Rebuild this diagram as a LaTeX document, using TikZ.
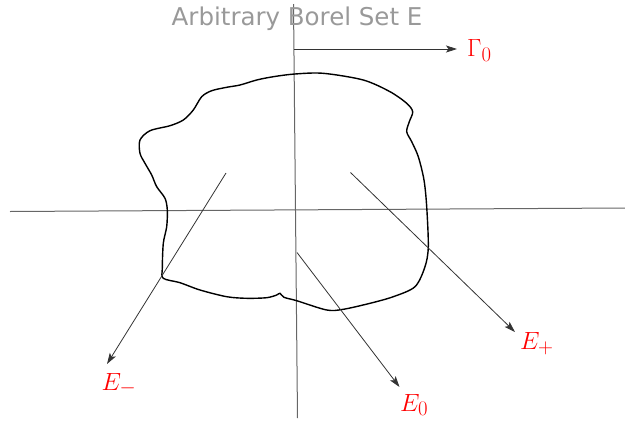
\documentclass[tikz,border=0pt]{standalone}
\usepackage{fontspec}
\newfontfamily\titlefont{DejaVu Sans}
\usetikzlibrary{arrows.meta}
\definecolor{titlegray}{HTML}{999999}
\definecolor{axisgray}{HTML}{666666}
\definecolor{arrowgray}{HTML}{333333}
\definecolor{labelred}{HTML}{FF0000}
\tikzset{
  axisline/.style={draw=axisgray, line width=1pt},
  pointer/.style={draw=arrowgray, line width=0.8pt, -{Stealth[length=11pt,width=7pt,inset=2.5pt]}},
  mathlabel/.style={text=labelred, anchor=base west, inner sep=0pt, font=\fontsize{28}{32}\selectfont},
  titlelabel/.style={text=titlegray, anchor=base west, inner sep=0pt, font=\titlefont\fontsize{24.5}{28}\selectfont},
  blob/.style={draw=black, line width=1.4pt}
}
\begin{document}
\begin{tikzpicture}[x=1pt,y=-1pt]
\useasboundingbox (0,0) rectangle (625,421);
% axes
\coordinate (hl) at (10,211.5);
\coordinate (hr) at (625,208);
\coordinate (vt) at (293.5,4);
\coordinate (vb) at (297.5,418);
\draw[axisline] (hl) -- (hr);
\draw[axisline] (vt) -- (vb);
% title
\node[titlelabel] (title) at (171.5,25.3) {Arbitrary Borel Set E};
% blob
\draw[blob] plot[smooth cycle, tension=0.5] coordinates {
 (295,74) (323.3,73.3) (363.3,80) (390,91.7) (406.7,103.3) (412.7,111.7)
 (409.3,121.7) (406.7,131.7) (411.7,141.7) (418.3,156.7) (424,180)
 (426.7,206.7) (428.3,246.7) (425,266.7) (415,286.7) (393.3,296.7)
 (370,303.3) (343.3,309.3) (326.7,310) (296.7,300.7) (284,297.3)
 (280,293.3) (276.7,295) (266.7,297.7) (246.7,298.3) (226.7,296.7)
 (200,290) (180,282.7) (163.3,278.3) (162.3,268.3) (163.3,243.3)
 (166.7,226.7) (167.3,210) (165,198.3) (156.7,186.7) (151.7,175)
 (145,163.3) (140,153.3) (140,140) (150,130.7) (170,125.7) (183.3,120)
 (193.3,110) (201.7,96.7) (211.7,90.7) (226.7,87.3) (240,85)
 (256.7,80) (273.3,76.7)};
% labels
\node[mathlabel] (G0) at (467,56.7) {$\Gamma_0$};
\node[mathlabel] (Eplus) at (520,349.3) {$E_+$};
\node[mathlabel] (Ezero) at (400,411) {$E_0$};
\node[mathlabel] (Eminus) at (101.5,390) {$E_-$};
% arrow coordinates
\coordinate (g0s) at (294,49);
\coordinate (g0t) at (457,49);
\coordinate (ems) at (226,173);
\coordinate (emt) at (107,364);
\coordinate (e0s) at (297,252.5);
\coordinate (e0t) at (399.5,387);
\coordinate (eps) at (350.5,172.5);
\coordinate (ept) at (515,332);
\draw[pointer] (g0s) -- (g0t);
\draw[pointer] (ems) -- (emt);
\draw[pointer] (e0s) -- (e0t);
\draw[pointer] (eps) -- (ept);
\end{tikzpicture}
\end{document}
